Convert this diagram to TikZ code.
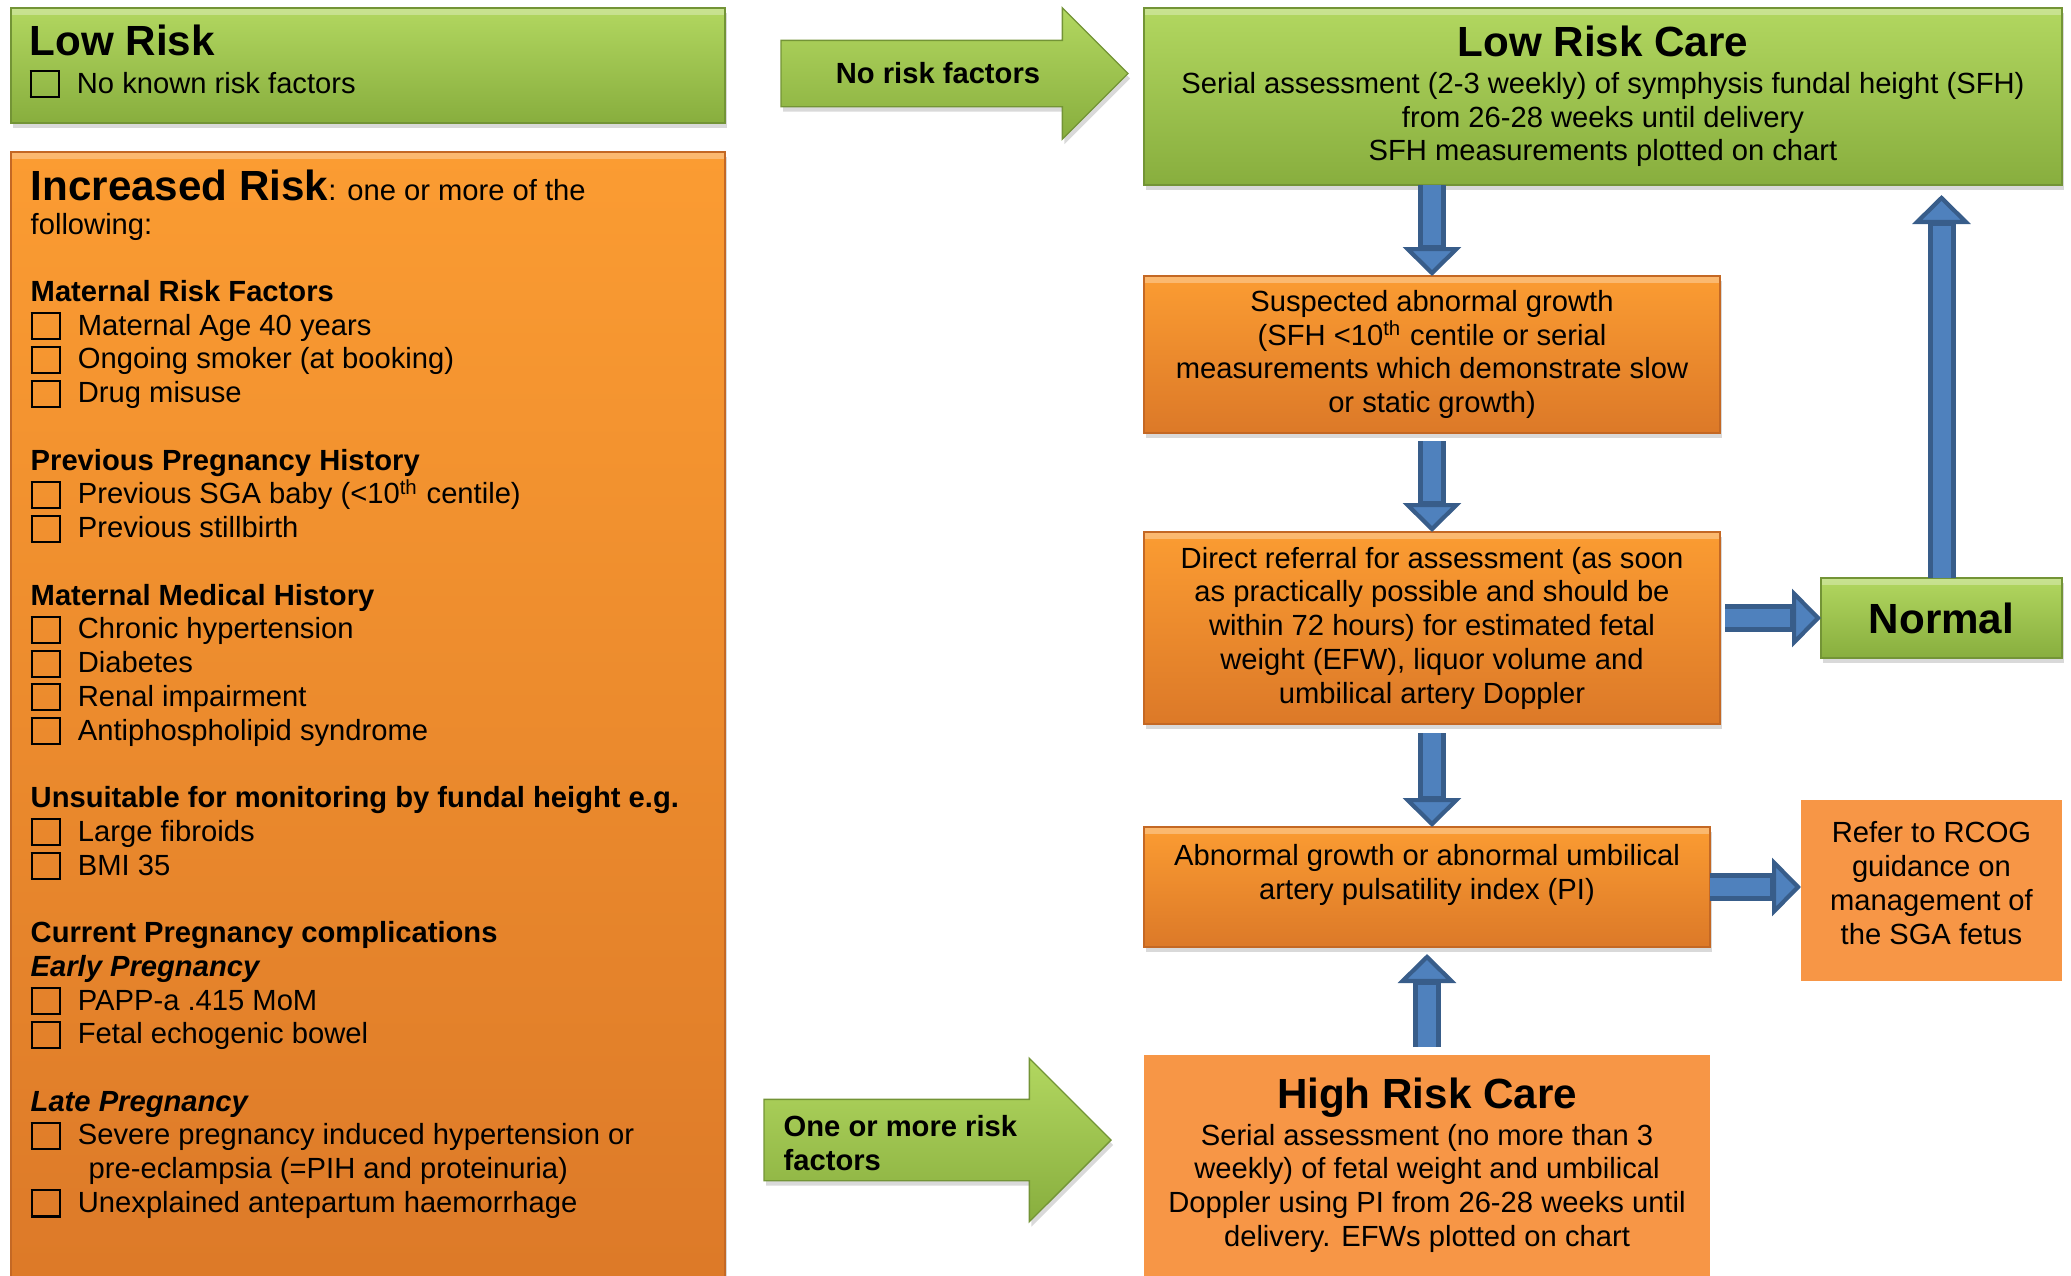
\documentclass[tikz,border=0pt]{standalone}
\usepackage{fontspec}
\setmainfont{Liberation Sans}
\usetikzlibrary{shapes.arrows,shadows,arrows.meta}

\definecolor{greentop}{RGB}{178,215,96}
\definecolor{greenbot}{RGB}{136,174,62}
\definecolor{greenedge}{RGB}{115,148,54}
\definecolor{orangetop}{RGB}{251,156,50}
\definecolor{orangebot}{RGB}{220,121,40}
\definecolor{orangeedge}{RGB}{196,104,36}
\definecolor{flatorange}{RGB}{247,150,70}
\definecolor{arrowblue}{RGB}{79,129,189}
\definecolor{arrowline}{RGB}{56,93,138}

\newcommand\bodyfont{\fontsize{8.3}{9.6}\selectfont}
\newcommand\titlefont{\fontsize{12}{13.8}\selectfont\bfseries}
\setlength{\fboxsep}{0pt}
\setlength{\fboxrule}{0.6pt}
\newcommand\chk{\raisebox{-0.03cm}{\fbox{\rule{0pt}{0.24cm}\rule{0.26cm}{0pt}}}\hspace{0.17cm}}

\tikzset{
  shine/.style={path picture={\fill[white,opacity=0.3] (path picture bounding box.north west) rectangle ([yshift=-0.07cm]path picture bounding box.north east);}},
  boxshadow/.style={drop shadow={shadow xshift=0.02cm, shadow yshift=-0.05cm, opacity=0.3}},
  greenbox/.style={rectangle, draw=greenedge, top color=greentop, bottom color=greenbot, boxshadow, shine, inner sep=0pt, outer sep=0pt},
  orangebox/.style={rectangle, draw=orangeedge, top color=orangetop, bottom color=orangebot, boxshadow, shine, inner sep=0pt, outer sep=0pt},
  flatbox/.style={rectangle, fill=flatorange, inner sep=0pt, outer sep=0pt},
  greenarrow/.style={single arrow, draw=greenedge, top color=greentop, bottom color=greenbot, boxshadow, inner xsep=0pt, outer sep=0pt},
  boxtext/.style={inner sep=0pt, font=\bodyfont},
  bluearrow/.style={draw=arrowline, line width=0.28cm, -{Triangle[width=0.58cm,length=0.29cm,line width=1.2pt,fill=arrowblue]}, postaction={draw=arrowblue, line width=0.18cm, -, shorten >=0.31cm}}
}

\begin{document}
\begin{tikzpicture}
\useasboundingbox (0,0) rectangle (20.71,-12.76);

\node (lowrisk) [greenbox, minimum width=7.14cm, minimum height=1.15cm, anchor=north west] at (0.11,-0.08) {};
\node (lowrisktext) [boxtext, anchor=north west, align=left] at (0.29,-0.24) {{\titlefont Low Risk}\\[1.2pt]
  \chk No known risk factors};

\node (incr) [orangebox, minimum width=7.14cm, minimum height=11.5cm, anchor=north west] at (0.11,-1.52) {};
\node (incrtext) [boxtext, anchor=north west, align=left] at (0.30,-1.69) {{\titlefont Increased Risk}: one or more of the\\
  following:\\[9.6pt]
  \textbf{Maternal Risk Factors}\\
  \chk Maternal Age 40 years\\
  \chk Ongoing smoker (at booking)\\
  \chk Drug misuse\\[9.6pt]
  \textbf{Previous Pregnancy History}\\
  \chk Previous SGA baby (<10\textsuperscript{th} centile)\\
  \chk Previous stillbirth\\[9.6pt]
  \textbf{Maternal Medical History}\\
  \chk Chronic hypertension\\
  \chk Diabetes\\
  \chk Renal impairment\\
  \chk Antiphospholipid syndrome\\[9.6pt]
  \textbf{Unsuitable for monitoring by fundal height e.g.}\\
  \chk Large fibroids\\
  \chk BMI 35\\[9.6pt]
  \textbf{Current Pregnancy complications}\\
  \textbf{\textit{Early Pregnancy}}\\
  \chk PAPP-a .415 MoM\\
  \chk Fetal echogenic bowel\\[9.6pt]
  \textbf{\textit{Late Pregnancy}}\\
  \chk Severe pregnancy induced hypertension or\\
  \hspace*{0.58cm}pre-eclampsia (=PIH and proteinuria)\\
  \chk Unexplained antepartum haemorrhage};

\node (noriskarrow) [greenarrow, inner ysep=0.325cm, minimum height=3.47cm, single arrow head extend=0.325cm, anchor=tail] at (7.81,-0.735) {};
\node (norisk) [boxtext, font=\bodyfont\bfseries] at (9.38,-0.735) {No risk factors};

\node (onemorearrow) [greenarrow, inner ysep=0.40cm, minimum height=3.47cm, single arrow head extend=0.41cm, anchor=tail] at (7.64,-11.40) {};
\node (onemore) [boxtext, font=\bodyfont\bfseries, align=left, anchor=west] at (7.83,-11.43) {One or more risk\\ factors};

\node (lowcare) [greenbox, boxtext, minimum width=9.18cm, minimum height=1.77cm, anchor=north west, align=center] at (11.44,-0.08) {{\titlefont Low Risk Care}\\[0.9pt]
  Serial assessment (2-3 weekly) of symphysis fundal height (SFH)\\
  from 26-28 weeks until delivery\\
  SFH measurements plotted on chart};

\node (suspect) [orangebox, boxtext, minimum width=5.76cm, minimum height=1.57cm, anchor=north west, align=center] at (11.44,-2.76) {Suspected abnormal growth\\
  (SFH <10\textsuperscript{th} centile or serial\\
  measurements which demonstrate slow\\
  or static growth)};

\node (referral) [orangebox, boxtext, minimum width=5.76cm, minimum height=1.92cm, anchor=north west, align=center] at (11.44,-5.32) {Direct referral for assessment (as soon\\
  as practically possible and should be\\
  within 72 hours) for estimated fetal\\
  weight (EFW), liquor volume and\\
  umbilical artery Doppler};

\node (abnormal) [orangebox, minimum width=5.66cm, minimum height=1.20cm, anchor=north west] at (11.44,-8.27) {};
\node (abnormaltext) [boxtext, anchor=north, align=center] at ([yshift=-0.17cm]abnormal.north) {Abnormal growth or abnormal umbilical\\
  artery pulsatility index (PI)};

\node (highcare) [flatbox, minimum width=5.66cm, minimum height=2.6cm, anchor=north west] at (11.44,-10.55) {};
\node (highcaretext) [boxtext, anchor=north, align=center] at ([yshift=-0.22cm]highcare.north) {{\titlefont High Risk Care}\\[0.9pt]
  Serial assessment (no more than 3\\
  weekly) of fetal weight and umbilical\\
  Doppler using PI from 26-28 weeks until\\
  delivery. EFWs plotted on chart};

\node (normal) [greenbox, minimum width=2.41cm, minimum height=0.80cm, anchor=north west, font=\titlefont] at (18.21,-5.78) {Normal};

\node (rcog) [flatbox, minimum width=2.61cm, minimum height=1.81cm, anchor=north west] at (18.01,-8.00) {};
\node (rcogtext) [boxtext, anchor=north, align=center] at ([yshift=-0.21cm]rcog.north) {Refer to RCOG\\
  guidance on\\
  management of\\
  the SGA fetus};

\draw[bluearrow] (suspect.north |- lowcare.south) -- (suspect.north);
\draw[bluearrow] ([yshift=-0.08cm]suspect.south) -- (referral.north);
\draw[bluearrow] ([yshift=-0.09cm]referral.south) -- (referral.south |- abnormal.north);
\draw[bluearrow] ([yshift=0.08cm]highcare.north) -- ([yshift=-0.07cm]abnormal.south);
\draw[bluearrow] ([xshift=0.05cm]referral.east |- normal.west) -- (normal.west);
\draw[bluearrow] (abnormal.east) -- (rcog.west |- abnormal.east);
\draw[bluearrow] (normal.north) -- ([yshift=-0.1cm]lowcare.south -| normal.north);
\end{tikzpicture}
\end{document}
